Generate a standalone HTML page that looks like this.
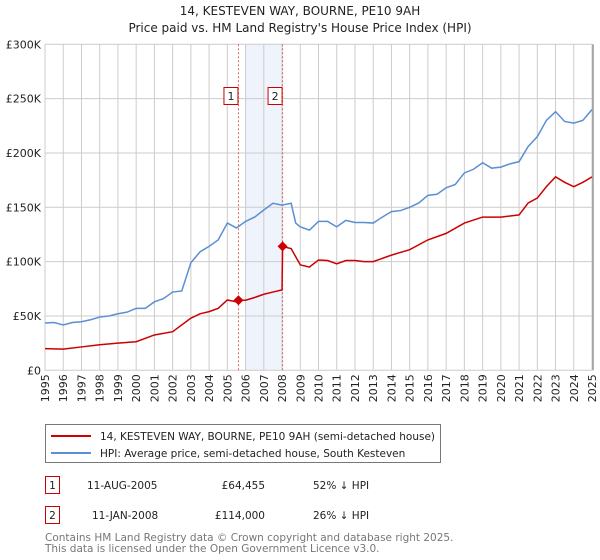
<!DOCTYPE html>
<html><head><meta charset="utf-8"><style>
body{margin:0;background:#fff;font-family:"Liberation Sans","DejaVu Sans",sans-serif;}
svg{display:block}
</style></head><body>
<svg width="600" height="560" viewBox="0 0 600 560" xmlns="http://www.w3.org/2000/svg" font-family="DejaVu Sans, Liberation Sans, sans-serif">
<text x="300" y="15" text-anchor="middle" font-size="12" fill="#222">14, KESTEVEN WAY, BOURNE, PE10 9AH</text>
<text x="300" y="32" text-anchor="middle" font-size="12" fill="#222">Price paid vs. HM Land Registry's House Price Index (HPI)</text>
<g id="plot"></g>
<g>
<rect x="45.5" y="424.5" width="395" height="38" fill="#fff" stroke="#777"/>
<line x1="51" y1="436" x2="91" y2="436" stroke="#cc0000" stroke-width="2"/>
<text x="100" y="440" font-size="10.5" fill="#222">14, KESTEVEN WAY, BOURNE, PE10 9AH (semi-detached house)</text>
<line x1="51" y1="453" x2="91" y2="453" stroke="#5b8fd4" stroke-width="2"/>
<text x="100" y="457" font-size="10.5" fill="#222">HPI: Average price, semi-detached house, South Kesteven</text>
</g>
<g font-size="10.5" fill="#222">
<rect x="45.5" y="476.5" width="14" height="17" fill="#fff" stroke="#cc0000"/>
<text x="52.5" y="489" text-anchor="middle">1</text>
<text x="87" y="489">11-AUG-2005</text>
<text x="265" y="489" text-anchor="end">£64,455</text>
<text x="313" y="489">52% ↓ HPI</text>
<rect x="45.5" y="506.5" width="14" height="17" fill="#fff" stroke="#cc0000"/>
<text x="52.5" y="519" text-anchor="middle">2</text>
<text x="92" y="519">11-JAN-2008</text>
<text x="265" y="519" text-anchor="end">£114,000</text>
<text x="313" y="519">26% ↓ HPI</text>
</g>
<text x="45" y="541" font-size="10.5" fill="#777">Contains HM Land Registry data © Crown copyright and database right 2025.</text>
<text x="45" y="552" font-size="10.5" fill="#777">This data is licensed under the Open Government Licence v3.0.</text>
</svg>
<script>
const yearTicks=[1995,1996,1997,1998,1999,2000,2001,2002,2003,2004,2005,2006,2007,2008,2009,2010,2011,2012,2013,2014,2015,2016,2017,2018,2019,2020,2021,2022,2023,2024,2025];
const valueTicks=[0,50,100,150,200,250,300];
const valueTickLabels=["£0","£50K","£100K","£150K","£200K","£250K","£300K"];
const hpiYears=[1995,1995.5,1996,1996.5,1997,1997.5,1998,1998.5,1999,1999.5,2000,2000.5,2001,2001.5,2002,2002.5,2003,2003.5,2004,2004.5,2005,2005.5,2006,2006.5,2007,2007.5,2008,2008.5,2008.75,2009,2009.5,2010,2010.5,2011,2011.5,2012,2012.5,2013,2013.5,2014,2014.5,2015,2015.5,2016,2016.5,2017,2017.5,2018,2018.5,2019,2019.5,2020,2020.5,2021,2021.5,2022,2022.5,2023,2023.5,2024,2024.5,2025];
const hpiValues=[43.5,44,41.7,44,44.7,46.5,49,50,52,53.5,57,57,63,66,72,73,99,109,114,120,135.5,131,137,141,147.5,153.7,152,153.7,135.5,132,129,137,137,132,138,136,136,135.5,141,146,147,150,154,161,162,168,171,181.6,185,191,186,187,190,192,206,215,230,238,229,227.5,230,240];
const propYears=[1995,1996,1997,1998,1999,2000,2001,2002,2003,2003.5,2004,2004.5,2005,2005.5,2005.61,2006,2006.5,2007,2007.5,2008,2008.03,2008.5,2009,2009.5,2010,2010.5,2011,2011.5,2012,2012.5,2013,2014,2015,2016,2017,2018,2019,2020,2021,2021.5,2022,2022.5,2023,2023.5,2024,2024.5,2025];
const propValues=[20,19.5,21.5,23.5,25,26.3,32.5,35.5,48,52,54,57,64.7,63,64.455,64.5,67,70,72,74,114,112,97,95,101.5,101,98,101,101,100,100,106,111,120,126,135.5,141,141,143,154,158.5,169,178,173,169,173,178];
const saleYears=[2005.61,2008.03];
const saleValues=[64.455,114];
const saleLabels=["1","2"];

const L=45,R=592,T=44.3,B=370.3,Y0=1995,Y1=2025,VMAX=300;
const xs=y=>L+(y-Y0)/(Y1-Y0)*(R-L);
const ys=v=>B-v/VMAX*(B-T);
const NS="http://www.w3.org/2000/svg";
const plot=document.getElementById('plot');
function mk(tag,attrs){const e=document.createElementNS(NS,tag);for(const k in attrs)e.setAttribute(k,attrs[k]);plot.appendChild(e);return e;}

let e=mk('rect',{x:xs(2006),y:T,width:xs(2008)-xs(2006),height:B-T,fill:'#eef3fc'});


yearTicks.forEach(y=>{
  const g=mk('line',{x1:xs(y),x2:xs(y),y1:T,y2:B,stroke:'#ccc','stroke-width':1});
  
  
  const t=mk('text',{transform:`translate(${xs(y)+4},${B+4}) rotate(-90)`,'text-anchor':'end','font-size':11,fill:'#222'});
  t.textContent=y;
  
  
});
valueTicks.forEach((v,i)=>{
  const g=mk('line',{x1:L,x2:R,y1:ys(v),y2:ys(v),stroke:'#ccc','stroke-width':1});
  
  
  const t=mk('text',{x:L-4,y:ys(v)+4,'text-anchor':'end','font-size':11,fill:'#222'});
  t.textContent=valueTickLabels[i];
  
  
});
e=mk('line',{x1:R+1,x2:R+1,y1:T,y2:B,stroke:'#999','stroke-width':1.5});


saleYears.forEach((y,i)=>{
  const l=mk('line',{x1:xs(y),x2:xs(y),y1:T,y2:B,stroke:'#e06060','stroke-width':1,'stroke-dasharray':'2,2'});
  
  
  const r=mk('rect',{x:xs(y)-14.5,y:87.5,width:14,height:17,fill:'#fff',stroke:'#cc0000'});
  
  
  const t=mk('text',{x:xs(y)-7.5,y:100,'text-anchor':'middle','font-size':11,fill:'#222'});
  t.textContent=saleLabels[i];
  
  
});
e=mk('polyline',{points:hpiYears.map((y,i)=>xs(y)+','+ys(hpiValues[i])).join(' '),fill:'none',stroke:'#5b8fd4','stroke-width':1.5});


e=mk('polyline',{points:propYears.map((y,i)=>xs(y)+','+ys(propValues[i])).join(' '),fill:'none',stroke:'#cc0000','stroke-width':1.5});


saleYears.forEach((y,i)=>{
  const cx=xs(y),cy=ys(saleValues[i]);
  const p=mk('polygon',{points:`${cx},${cy-5} ${cx+5},${cy} ${cx},${cy+5} ${cx-5},${cy}`,fill:'#cc0000'});
  
  
});
</script>
</body></html>
